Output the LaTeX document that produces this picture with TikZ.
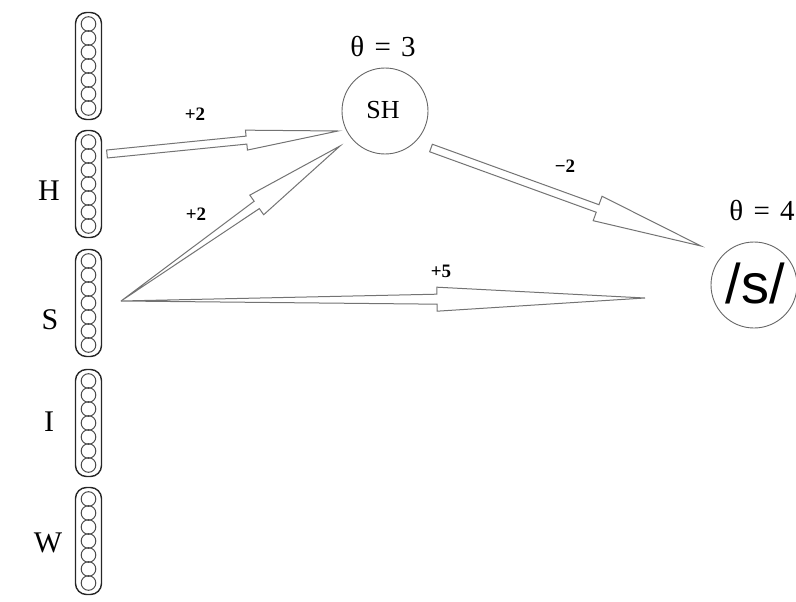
\documentclass[tikz,border=0pt]{standalone}
\usepackage{fontspec}
\setmainfont{Liberation Serif}
\newfontfamily\slashfont{Liberation Sans}
\usetikzlibrary{calc}
\tikzset{
  pill/.style={draw=black!85, line width=1.4pt, rounded corners=11pt, minimum width=26pt, minimum height=107pt, inner sep=0pt},
  bead/.style={draw=black!70, line width=1pt},
  unit/.style={draw=black!60, line width=0.9pt, circle, inner sep=0pt, minimum size=86pt},
  arr/.style={draw=black!55, line width=1pt, fill=white, line join=miter},
  letter/.style={font=\fontsize{30}{32}\selectfont},
  wlab/.style={font=\fontsize{19}{21}\selectfont\bfseries},
  thlab/.style={font=\fontsize{29}{31}\selectfont}
}
% #1 name, #2 start, #3 tip, #4 head length, #5 start half width, #6 shaft half width, #7 head half width
\newcommand\harrow[7]{%
  \coordinate (#1c) at ($(#3)!#4!(#2)$);
  \draw[arr] ($(#2)!#5!90:(#3)$) -- ($(#1c)!#6!90:(#3)$) -- ($(#1c)!#7!90:(#3)$)
    -- (#3) -- ($(#1c)!#7!-90:(#3)$) -- ($(#1c)!#6!-90:(#3)$) -- ($(#2)!#5!-90:(#3)$) -- cycle;
}
\begin{document}
\begin{tikzpicture}[x=1pt,y=-1pt]
\useasboundingbox (0,0) rectangle (796,602);
% pools
\foreach \n/\y in {p1/66,p2/184,p3/303,p4/423,p5/541}{
  \node[pill] (\n) at (88.5,\y) {};
  \foreach \k in {-3,...,3}{
    \draw[bead] ($(\n)+(0,\k*14)$) circle (7.3);
  }
}
\node[letter] (lh) at (49,191) {H};
\node[letter] (ls) at (50,320) {S};
\node[letter] (li) at (49,422) {I};
\node[letter] (lw) at (48,543) {W};
% units
\node[unit] (sh) at (385,111) {};
\node[font=\fontsize{26}{28}\selectfont] (shl) at (383,110) {SH};
\node[unit] (ss) at (754,285) {};
\node[font=\fontsize{56}{58}\selectfont\slashfont] (ssl) at (755,283) {/s/};
\node[thlab] (th3) at (383,47) {θ\hspace{0.35em}=\hspace{0.35em}3};
\node[thlab] (th4) at (762,211) {θ\hspace{0.35em}=\hspace{0.35em}4};
% connector end points
\coordinate (a1s) at (107,154);
\coordinate (a1e) at (338,131);
\coordinate (org) at (121,301);
\coordinate (a2e) at (340,146);
\coordinate (a3e) at (645,298);
\coordinate (a4s) at (431,148);
\coordinate (a4e) at (701,246);
% arrows
\harrow{q1}{a1s}{a1e}{92pt}{4pt}{4pt}{10pt}
\harrow{q2}{org}{a2e}{102pt}{0pt}{4.5pt}{12pt}
\harrow{q3}{org}{a3e}{208pt}{0pt}{5pt}{12pt}
\harrow{q4}{a4s}{a4e}{110pt}{4pt}{4pt}{13pt}
% weights
\node[wlab] (w1) at (195,114) {+2};
\node[wlab] (w2) at (196,214) {+2};
\node[wlab] (w3) at (441,271) {+5};
\node[wlab] (w4) at (565,166) {−2};
\end{tikzpicture}
\end{document}
